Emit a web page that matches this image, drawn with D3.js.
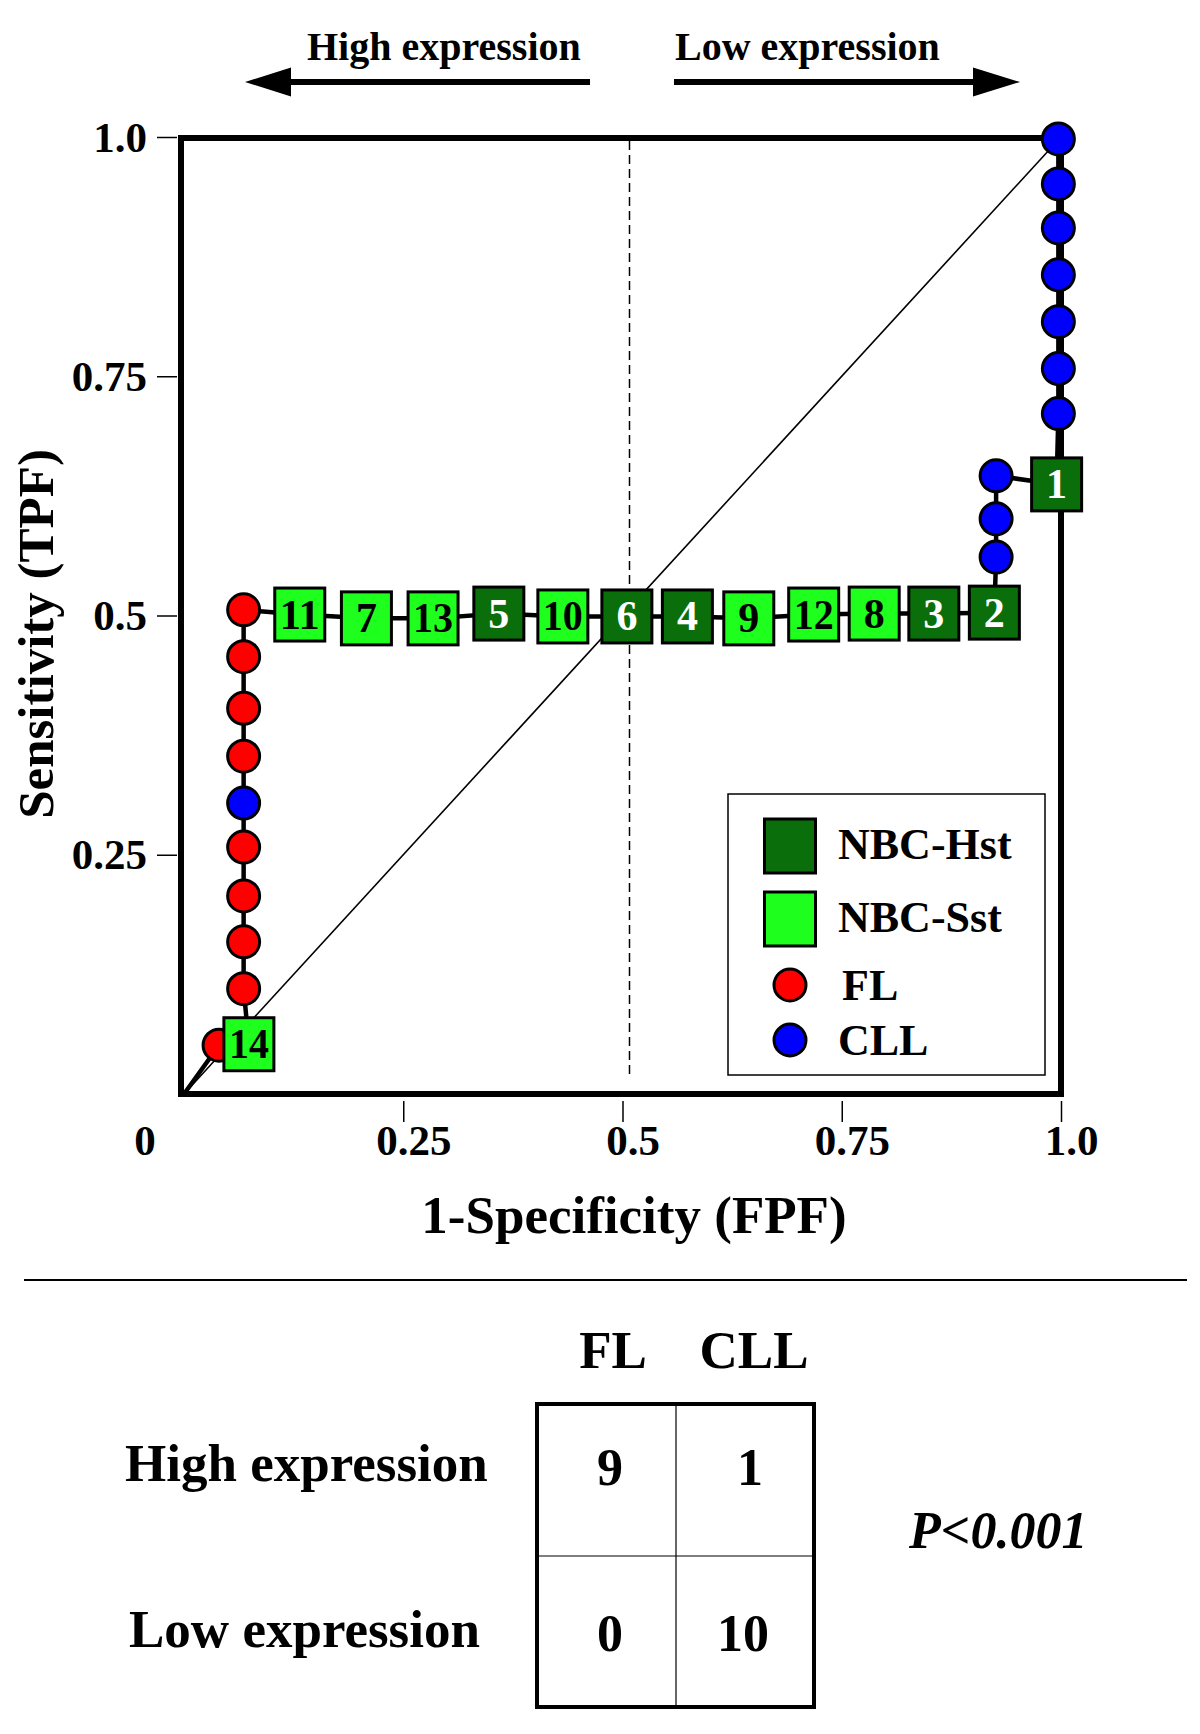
<!DOCTYPE html>
<html>
<head>
<meta charset="utf-8">
<script src="https://cdn.jsdelivr.net/npm/d3@7"></script>
<style>
  html, body { margin: 0; padding: 0; background: #fff; }
  svg { display: block; }
  text { font-family: "Liberation Serif", "Times New Roman", serif; font-weight: bold; }
</style>
</head>
<body>
<svg id="chart" width="1200" height="1734"></svg>
<script>
// ---------- DATA ----------
// ROC curve points in drawing order (FPF, TPF), kind and box label
const rocFPF = [0, 0.040, 0.074, 0.068, 0.068, 0.068, 0.068, 0.068, 0.068, 0.068, 0.068, 0.068,
  0.132, 0.208, 0.284, 0.359, 0.432, 0.505, 0.574, 0.644, 0.718, 0.787, 0.855, 0.924,
  0.926, 0.926, 0.926, 0.995, 0.997, 0.997, 0.997, 0.997, 0.997, 0.997, 0.997];
const rocTPF = [0, 0.051, 0.052, 0.110, 0.159, 0.207, 0.258, 0.304, 0.353, 0.403, 0.457, 0.506,
  0.501, 0.497, 0.497, 0.502, 0.499, 0.499, 0.499, 0.497, 0.501, 0.502, 0.502, 0.503,
  0.561, 0.601, 0.646, 0.637, 0.711, 0.758, 0.807, 0.856, 0.905, 0.951, 0.998];
const rocKind = ["origin", "FL", "NBC-Sst", "FL", "FL", "FL", "FL", "CLL", "FL", "FL", "FL", "FL",
  "NBC-Sst", "NBC-Sst", "NBC-Sst", "NBC-Hst", "NBC-Sst", "NBC-Hst", "NBC-Hst", "NBC-Sst", "NBC-Sst", "NBC-Sst", "NBC-Hst", "NBC-Hst",
  "CLL", "CLL", "CLL", "NBC-Hst", "CLL", "CLL", "CLL", "CLL", "CLL", "CLL", "CLL"];
const rocLabel = ["", "", "14", "", "", "", "", "", "", "", "", "",
  "11", "7", "13", "5", "10", "6", "4", "9", "12", "8", "3", "2",
  "", "", "", "1", "", "", "", "", "", "", ""];

const xTicks = [0.25, 0.5, 0.75, 1.0];
const xTickLabels = ["0.25", "0.5", "0.75", "1.0"];
const yTicks = [1.0, 0.75, 0.5, 0.25];
const yTickLabels = ["1.0", "0.75", "0.5", "0.25"];

const legendKeys = ["NBC-Hst", "NBC-Sst", "FL", "CLL"];
const kindColor = { "NBC-Hst": "#0a6e0a", "NBC-Sst": "#1eff1e", "FL": "#ff0000", "CLL": "#0000ff" };
const kindText = { "NBC-Hst": "#ffffff", "NBC-Sst": "#000000" };

const tableCols = ["FL", "CLL"];
const tableRows = ["High expression", "Low expression"];
const tableValues = [[9, 1], [0, 10]];
const pText = "P<0.001";

// ---------- LAYOUT ----------
const svg = d3.select("#chart");
svg.append("rect").attr("width", 1200).attr("height", 1734).attr("fill", "#fff");

const x = d3.scaleLinear().domain([0, 1]).range([184, 1061]);
const y = d3.scaleLinear().domain([0, 1]).range([1094, 137]);

// header arrows
const header = svg.append("g");
header.append("text").attr("x", 307).attr("y", 60).attr("font-size", 40).text("High expression");
header.append("text").attr("x", 675).attr("y", 60).attr("font-size", 40).text("Low expression");
header.append("rect").attr("x", 288).attr("y", 79).attr("width", 302).attr("height", 6).attr("fill", "#000");
header.append("path").attr("d", "M245,82 L291,67.5 L291,96.5 Z").attr("fill", "#000");
header.append("rect").attr("x", 674).attr("y", 79).attr("width", 302).attr("height", 6).attr("fill", "#000");
header.append("path").attr("d", "M1020,82 L973,67.5 L973,96.5 Z").attr("fill", "#000");

// dashed 0.5 line and diagonal chance line
svg.append("line")
  .attr("x1", x(0.5) + 7).attr("x2", x(0.5) + 7)
  .attr("y1", y(1) + 4).attr("y2", 1078)
  .attr("stroke", "#000").attr("stroke-width", 1.5).attr("stroke-dasharray", "9,5");
svg.append("line")
  .attr("x1", x(0)).attr("y1", y(0)).attr("x2", x(1)).attr("y2", y(1))
  .attr("stroke", "#000").attr("stroke-width", 1.6);

// frame
svg.append("rect")
  .attr("x", x(0) - 3).attr("y", y(1) + 1)
  .attr("width", x(1) - x(0) + 3).attr("height", y(0) - y(1) - 1)
  .attr("fill", "none").attr("stroke", "#000").attr("stroke-width", 6);

// axes
const xAxis = svg.append("g").attr("transform", "translate(0,1101)")
  .call(d3.axisBottom(x).tickValues(xTicks).tickSize(21).tickFormat((d, i) => xTickLabels[i]));
xAxis.select(".domain").remove();
xAxis.selectAll(".tick line").attr("stroke", "#000").attr("stroke-width", 1.5);
xAxis.selectAll(".tick text").attr("y", 54).attr("dy", 0).attr("x", 10)
  .attr("font-size", 43).attr("fill", "#000")
  .attr("font-family", "Liberation Serif").attr("font-weight", "bold");
svg.append("text").attr("x", x(0) - 39).attr("y", 1155).attr("text-anchor", "middle")
  .attr("font-size", 43).text("0");

const yAxis = svg.append("g").attr("transform", "translate(177,0)")
  .call(d3.axisLeft(y).tickValues(yTicks).tickSize(20).tickFormat((d, i) => yTickLabels[i]));
yAxis.select(".domain").remove();
yAxis.selectAll(".tick line").attr("stroke", "#000").attr("stroke-width", 1.5);
yAxis.selectAll(".tick text").attr("x", -30).attr("dy", "0.33em")
  .attr("font-size", 43).attr("fill", "#000")
  .attr("font-family", "Liberation Serif").attr("font-weight", "bold");

// axis titles
svg.append("text").attr("x", 634).attr("y", 1233).attr("text-anchor", "middle")
  .attr("font-size", 53).text("1-Specificity (FPF)");
svg.append("text").attr("transform", "translate(53,634) rotate(-90)").attr("text-anchor", "middle")
  .attr("font-size", 51).text("Sensitivity (TPF)");

// ROC path
const pts = rocFPF.map((v, i) => ({ fx: v, ty: rocTPF[i], kind: rocKind[i], label: rocLabel[i] }));
svg.append("path")
  .attr("d", d3.line().x(d => x(d.fx)).y(d => y(d.ty))(pts))
  .attr("fill", "none").attr("stroke", "#000").attr("stroke-width", 4.5).attr("stroke-linejoin", "round");

// markers
const mk = svg.append("g");
pts.forEach(p => {
  if (p.kind === "FL" || p.kind === "CLL") {
    mk.append("circle").attr("cx", x(p.fx)).attr("cy", y(p.ty)).attr("r", 16)
      .attr("fill", kindColor[p.kind]).attr("stroke", "#000").attr("stroke-width", 3);
  } else if (p.kind === "NBC-Hst" || p.kind === "NBC-Sst") {
    mk.append("rect").attr("x", x(p.fx) - 25).attr("y", y(p.ty) - 26.5)
      .attr("width", 50).attr("height", 53)
      .attr("fill", kindColor[p.kind]).attr("stroke", "#000").attr("stroke-width", 3);
    mk.append("text").attr("x", x(p.fx)).attr("y", y(p.ty) + 14)
      .attr("text-anchor", "middle").attr("font-size", 42)
      .attr("textLength", p.label.length > 1 ? 40 : null)
      .attr("lengthAdjust", "spacingAndGlyphs")
      .attr("fill", kindText[p.kind]).text(p.label);
  }
});

// legend
const lg = svg.append("g");
lg.append("rect").attr("x", 728).attr("y", 794).attr("width", 317).attr("height", 281)
  .attr("fill", "#fff").attr("stroke", "#000").attr("stroke-width", 1.5);
const legendY = [846, 919, 985, 1040];
legendKeys.forEach((k, i) => {
  if (k.startsWith("NBC")) {
    lg.append("rect").attr("x", 764.5).attr("y", legendY[i] - 27).attr("width", 51).attr("height", 54)
      .attr("fill", kindColor[k]).attr("stroke", "#000").attr("stroke-width", 3);
    lg.append("text").attr("x", 838).attr("y", legendY[i] + 13).attr("font-size", 44).text(k);
  } else {
    lg.append("circle").attr("cx", 790).attr("cy", legendY[i]).attr("r", 16)
      .attr("fill", kindColor[k]).attr("stroke", "#000").attr("stroke-width", 3);
    lg.append("text").attr("x", i === 2 ? 842 : 838).attr("y", legendY[i] + 15).attr("font-size", 44).text(k);
  }
});

// separator
svg.append("line").attr("x1", 24).attr("x2", 1187).attr("y1", 1280).attr("y2", 1280)
  .attr("stroke", "#000").attr("stroke-width", 2);

// contingency table
const tbl = svg.append("g");
const colX = [610, 743];
const rowY = [1485, 1651];
tableCols.forEach((c, j) => {
  tbl.append("text").attr("x", colX[j] + (j === 0 ? 3 : 11)).attr("y", 1368)
    .attr("text-anchor", "middle").attr("font-size", 53).text(c);
});
tableRows.forEach((r, i) => {
  tbl.append("text").attr("x", i === 0 ? 125 : 129).attr("y", rowY[i] - 4).attr("font-size", 53).text(r);
  tableValues[i].forEach((v, j) => {
    tbl.append("text").attr("x", colX[j] + (j === 1 && i === 0 ? 7 : 0)).attr("y", rowY[i])
      .attr("text-anchor", "middle").attr("font-size", 52).text(v);
  });
});
tbl.append("rect").attr("x", 537).attr("y", 1404).attr("width", 277).attr("height", 303)
  .attr("fill", "none").attr("stroke", "#000").attr("stroke-width", 4);
tbl.append("line").attr("x1", 676).attr("x2", 676).attr("y1", 1404).attr("y2", 1707)
  .attr("stroke", "#000").attr("stroke-width", 1.2);
tbl.append("line").attr("x1", 537).attr("x2", 814).attr("y1", 1556).attr("y2", 1556)
  .attr("stroke", "#000").attr("stroke-width", 1.2);
svg.append("text").attr("x", 909).attr("y", 1548).attr("font-size", 52)
  .attr("font-style", "italic").text(pText);
</script>
</body>
</html>
